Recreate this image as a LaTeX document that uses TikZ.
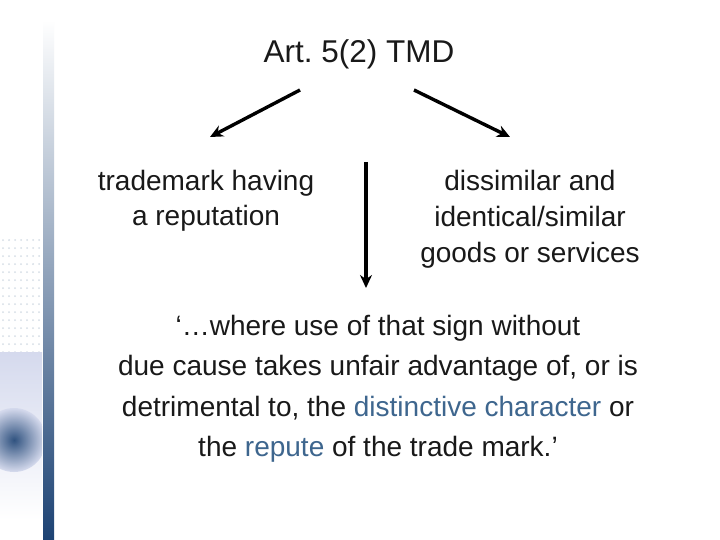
\documentclass[tikz,border=0pt]{standalone}
\usepackage{fontspec}
\setmainfont{Liberation Sans}
\usetikzlibrary{arrows.meta, positioning}
\definecolor{barblue}{RGB}{28,66,115}
\definecolor{keyblue}{RGB}{62,102,142}
\definecolor{inkgray}{RGB}{25,25,25}
\tikzset{
    conn/.style={draw=black, line width=3.4pt, -{Stealth[length=13pt,width=12pt]}},
    plain/.style={text=inkgray, inner sep=0pt, align=center},
}
\newcommand{\Key}[1]{\textcolor{keyblue}{#1}}

\begin{document}
\begin{tikzpicture}[x=1pt, y=-1pt]
    \useasboundingbox (0,0) rectangle (720,540);
    \fill[white] (0,0) rectangle (720,540);

    % side strip
    \shade[top color=white, middle color=barblue!55!white, bottom color=barblue]
      (43,20) rectangle (54,540);
    \foreach \i in {0,...,6}
      \foreach \j in {0,...,18}
        \fill[barblue!18] (3+6*\i,240+8*\j) circle (1pt);
    \shade[top color=blue!30!barblue!18, bottom color=white] (0,352) rectangle (42,520);
    \begin{scope}
      \clip (0,352) rectangle (42,520);
      \shade[inner color=barblue, outer color=blue!30!barblue!18, opacity=0.9] (14,440) circle (32);
    \end{scope}

    \node[plain, anchor=base, font=\fontsize{31.5}{36}\selectfont] (art) at (359,63) {Art.\ 5(2) TMD};

    \node[plain, anchor=north, font=\fontsize{28}{35}\selectfont] (rep) at (206,170)
      {trademark having\\a reputation};
    \node[plain, anchor=north, font=\fontsize{28}{36}\selectfont] (goods) at (530,170)
      {dissimilar and\\identical/similar\\goods or services};
    \node[plain, anchor=north, font=\fontsize{28}{40.5}\selectfont] (use) at (378,315)
      {`\dots where use of that sign without\\
       due cause takes unfair advantage of, or is\\
       detrimental to, the \Key{distinctive character} or\\
       the \Key{repute} of the trade mark.'};

    \coordinate (l0) at (300,90);
    \coordinate (l1) at (210,137);
    \coordinate (r0) at (414,90);
    \coordinate (r1) at (510,137);
    \coordinate (m0) at (366,162);
    \coordinate (m1) at (366,288);

    \draw[conn] (l0) -- (l1);
    \draw[conn] (r0) -- (r1);
    \draw[conn] (m0) -- (m1);
\end{tikzpicture}
\end{document}
